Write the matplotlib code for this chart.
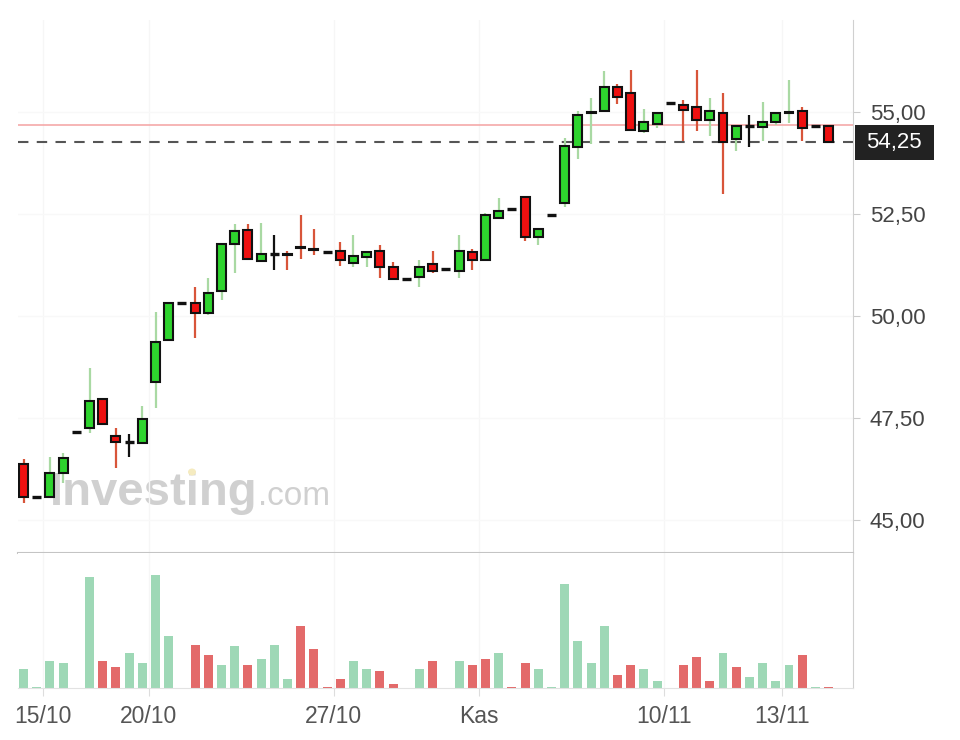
import matplotlib
matplotlib.use('Agg')
import matplotlib.pyplot as plt
from matplotlib.patches import Rectangle, Ellipse

# ---------------- data ----------------
opens  = [46.37, 45.57, 45.57, 46.16, 47.16, 47.25, 47.96, 47.06, 46.92, 46.89,
          48.39, 49.41, 50.31, 50.31, 50.07, 50.60, 51.76, 52.11, 51.35, 51.52,
          51.52, 51.69, 51.64, 51.57, 51.58, 51.29, 51.45, 51.58, 51.21, 50.91,
          50.95, 51.26, 51.15, 51.10, 51.57, 51.36, 52.40, 52.62, 52.92, 51.94,
          52.46, 52.76, 54.15, 54.98, 55.01, 55.62, 55.47, 54.53, 54.71, 55.21,
          55.17, 55.11, 54.80, 54.97, 54.34, 54.66, 54.64, 54.76, 54.98, 55.01,
          54.66, 54.66]
highs  = [46.49, 45.57, 46.54, 46.65, 47.16, 48.73, 47.98, 47.25, 47.10, 47.78,
          50.10, 50.35, 50.31, 50.72, 50.92, 51.78, 52.25, 52.25, 52.27, 51.97,
          51.58, 52.48, 52.12, 51.57, 51.82, 51.99, 51.60, 51.74, 51.33, 50.91,
          51.37, 51.58, 51.15, 51.97, 51.63, 52.52, 52.88, 52.62, 52.94, 52.14,
          52.46, 54.36, 55.03, 55.34, 56.01, 55.69, 56.03, 55.07, 54.99, 55.21,
          55.28, 56.03, 55.34, 55.47, 54.66, 54.93, 55.23, 54.99, 55.77, 55.12,
          54.66, 54.68]
lows   = [45.41, 45.57, 45.55, 45.90, 47.16, 47.14, 47.33, 46.28, 46.54, 46.87,
          47.74, 49.38, 50.31, 49.46, 50.02, 50.39, 51.05, 51.38, 51.33, 51.13,
          51.13, 51.39, 51.50, 51.57, 51.23, 51.19, 51.19, 50.92, 50.88, 50.91,
          50.72, 51.05, 51.15, 50.92, 51.13, 51.34, 52.38, 52.62, 51.84, 51.74,
          52.46, 52.68, 53.85, 54.22, 54.99, 55.19, 54.53, 54.48, 54.60, 55.21,
          54.29, 54.53, 54.40, 52.98, 54.05, 54.13, 54.29, 54.68, 54.72, 54.29,
          54.66, 54.25]
closes = [45.57, 45.57, 46.16, 46.51, 47.16, 47.92, 47.35, 46.90, 46.92, 47.47,
          49.37, 50.31, 50.31, 50.07, 50.56, 51.76, 52.07, 51.40, 51.51, 51.52,
          51.49, 51.67, 51.62, 51.57, 51.36, 51.47, 51.57, 51.19, 50.90, 50.91,
          51.21, 51.10, 51.15, 51.58, 51.36, 52.48, 52.57, 52.62, 51.94, 52.12,
          52.46, 54.17, 54.91, 55.00, 55.61, 55.36, 54.56, 54.76, 54.97, 55.21,
          55.05, 54.79, 55.01, 54.26, 54.66, 54.66, 54.76, 54.97, 55.00, 54.60,
          54.66, 54.25]
volumes = [19, 1, 27, 25, 0, 111, 27, 21, 35, 25,
           113, 52, 0, 43, 33, 23, 42, 23, 29, 43,
           9, 62, 39, 1, 9, 27, 19, 17, 4, 0,
           19, 27, 0, 27, 23, 29, 35, 1, 25, 19,
           1, 104, 47, 25, 62, 13, 23, 19, 7, 0,
           23, 31, 7, 35, 21, 11, 25, 7, 23, 33,
           1, 1]
vol_dir = list("uuuuuudduu"
               "uuudduuduu"
               "udddduuddd"
               "uduudduddu"
               "uuuuudduud"
               "ddduduuuud"
               "ud")
tick_pos = [1.5, 9.5, 23.5, 34.5, 48.5, 57.5]
tick_labels = ['15/10', '20/10', '27/10', 'Kas', '10/11', '13/11']
price_ticks = [45.0, 47.5, 50.0, 52.5, 55.0]
last_price = 54.25
ref_price = 54.68

# ---------------- figure ----------------
W, H = 960, 740
fig = plt.figure(figsize=(W / 100, H / 100), dpi=100)
fig.patch.set_facecolor('white')

def rect(l, t, r, b):
    return [l / W, 1 - b / H, (r - l) / W, (b - t) / H]

ax = fig.add_axes(rect(18, 20, 853, 553))
axv = fig.add_axes(rect(18, 553, 853, 688), sharex=ax)

GREEN = '#2ed42e'
RED = '#ee1010'
GWICK = '#a9d9a3'
RWICK = '#d8553a'
w = 0.68

for i, (o, h, l, c) in enumerate(zip(opens, highs, lows, closes)):
    if o == c:
        if h > l:
            ax.vlines(i, l, h, color='#111111', lw=1.6, zorder=3)
        ax.hlines(c, i - w / 2, i + w / 2, color='#111111', lw=2.4, zorder=3)
    else:
        up = c > o
        ax.vlines(i, l, h, color=GWICK if up else RWICK, lw=1.6, zorder=2)
        ax.bar(i, abs(c - o), bottom=min(o, c), width=w,
               color=GREEN if up else RED, edgecolor='#111111', linewidth=1.5,
               zorder=3)

ax.axhline(ref_price, color='#f5a9a9', lw=1.2, zorder=1)
ax.axhline(last_price, color='#555555', lw=1.5, ls=(0, (5, 4)), zorder=1)

ax.set_xlim(-0.42, 62.85)
ax.set_ylim(44.19, 57.25)

# volume
vcols = ['#9ed8b6' if d == 'u' else '#e36a6a' for d in vol_dir]
axv.bar(range(len(volumes)), volumes, width=w, color=vcols, zorder=2)
axv.set_ylim(0, 135)

# styling
for a in (ax, axv):
    a.set_facecolor('white')
    a.spines['top'].set_visible(False)
    a.spines['left'].set_visible(False)
    a.spines['right'].set_color('#d0d0d0')
    a.grid(axis='x', color='#f6f6f6', lw=1.0, zorder=0)
    a.set_axisbelow(True)
    a.set_xticks(tick_pos)

ax.spines['bottom'].set_color('#c4c4c4')
ax.spines['bottom'].set_linewidth(1.5)
axv.spines['bottom'].set_color('#e2e2e2')

ax.tick_params(axis='x', length=0, labelbottom=False)
ax.yaxis.tick_right()
ax.set_yticks(price_ticks)
ax.set_yticklabels([f'{p:.2f}'.replace('.', ',') for p in price_ticks])
ax.tick_params(axis='y', length=5, color='#cccccc', labelcolor='#444444',
               labelsize=16, pad=7)
ax.grid(axis='y', color='#f8f8f8', lw=1.0, zorder=0)
for t in ax.get_yticklabels():
    t.set_family('Liberation Sans')

axv.set_yticks([])
axv.set_xticklabels(tick_labels)
axv.tick_params(axis='x', length=6, color='#dddddd', labelcolor='#555555',
                labelsize=16.5, pad=6)
for t in axv.get_xticklabels():
    t.set_family('Liberation Sans')

# watermark
ax.text(50 / W, 1 - 505 / H, 'Investing', transform=fig.transFigure,
        fontsize=34, fontweight='bold', family='Liberation Sans',
        color='#d0d0d0', zorder=0.5, va='baseline', ha='left')
ax.text(258 / W, 1 - 505 / H, '.com', transform=fig.transFigure,
        fontsize=24, family='Liberation Sans',
        color='#d0d0d0', zorder=0.5, va='baseline', ha='left')
ax.add_artist(Ellipse((192 / W, 1 - 472 / H), 8 / W, 7 / H,
                      transform=fig.transFigure, facecolor='#f5ebc0',
                      edgecolor='none', zorder=0.6))

# last price label box
fig.canvas.draw()
ypix = ax.transData.transform((0, last_price))[1]
bh = 35
fig.add_artist(Rectangle((855 / W, (ypix - bh / 2) / H), 79 / W, bh / H,
                         transform=fig.transFigure, facecolor='#222222',
                         edgecolor='none'))
fig.text(894 / W, ypix / H, '54,25', color='white', fontsize=16,
         family='Liberation Sans', ha='center', va='center')

fig.savefig('out.png', dpi=100, facecolor='white')
